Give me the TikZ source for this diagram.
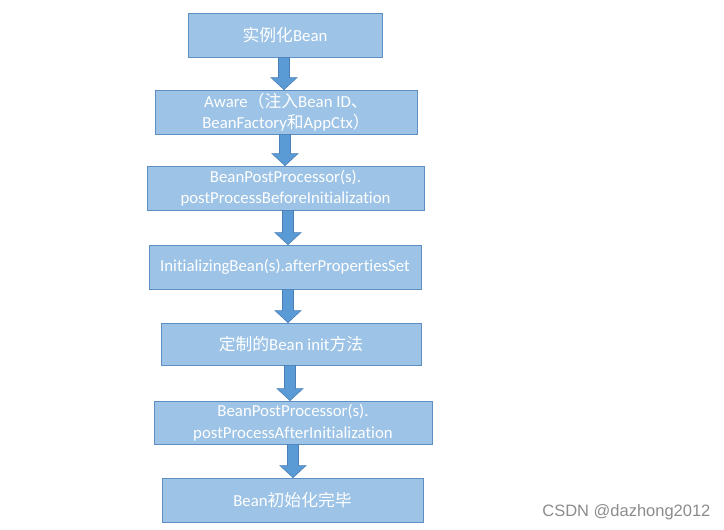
\documentclass[tikz,border=0pt]{standalone}
\usepackage{fontspec}
\setmainfont[Ligatures={NoCommon}]{Carlito}
\newfontfamily\cjk{Noto Sans CJK SC}
\newfontfamily\wmfont{Liberation Sans}
\usetikzlibrary{calc}
\definecolor{boxfill}{HTML}{9DC3E6}
\definecolor{boxline}{HTML}{5E8FC2}
\definecolor{arrfill}{HTML}{5B9BD5}
\definecolor{arrline}{HTML}{4A7EB5}
\tikzset{
  stepbox/.style={draw=boxline, line width=0.8pt, fill=boxfill, text=white, align=center,
    inner sep=0pt, font=\fontsize{16.8}{21.5}\selectfont},
  blockarr/.style={draw=arrline, line width=0.6pt, fill=arrfill},
}
\newcommand\blockarrow[3]{%
  \draw[blockarr] ($(#1,0 |- #2.south)+(-5.5,0)$) -- ($(#1,0 |- #3.north)+(-5.5,-12)$)
    -- ($(#1,0 |- #3.north)+(-13,-12)$) -- (#1,0 |- #3.north)
    -- ($(#1,0 |- #3.north)+(13,-12)$) -- ($(#1,0 |- #3.north)+(5.5,-12)$)
    -- ($(#1,0 |- #2.south)+(5.5,0)$) -- cycle;}
\begin{document}
\begin{tikzpicture}[x=1pt,y=-1pt]
\useasboundingbox (0,0) rectangle (724,530);
\fill[white] (0,0) rectangle (724,530);
\node[stepbox, minimum width=194pt, minimum height=44pt] (b1) at (285,35) {{\cjk 实例化}Bean};
\node[stepbox, minimum width=262pt, minimum height=44pt] (b2) at (286,112) {Aware{\cjk （注入}Bean ID{\cjk 、}\\BeanFactory{\cjk 和}AppCtx{\cjk ）}};
\node[stepbox, minimum width=277pt, minimum height=44pt] (b3) at (285.5,188) {BeanPostProcessor(s).\\postProcessBeforeInitialization};
\node[stepbox, minimum width=272pt, minimum height=44pt] (b4) at (285,267) {InitializingBean(s).afterPropertiesSet};
\node[stepbox, minimum width=260pt, minimum height=42pt] (b5) at (291,344) {{\cjk 定制的}Bean init{\cjk 方法}};
\node[stepbox, minimum width=278pt, minimum height=43pt] (b6) at (293,422.5) {BeanPostProcessor(s).\\postProcessAfterInitialization};
\node[stepbox, minimum width=261pt, minimum height=44pt] (b7) at (292.5,500) {Bean{\cjk 初始化完毕}};
\blockarrow{284}{b1}{b2}
\blockarrow{285}{b2}{b3}
\blockarrow{288}{b3}{b4}
\blockarrow{288}{b4}{b5}
\blockarrow{290}{b5}{b6}
\blockarrow{293}{b6}{b7}
\node[font=\wmfont\fontsize{16.5}{16.5}\selectfont, text=black!45, anchor=east] (wm) at (714,512) {CSDN @dazhong2012};
\end{tikzpicture}
\end{document}
